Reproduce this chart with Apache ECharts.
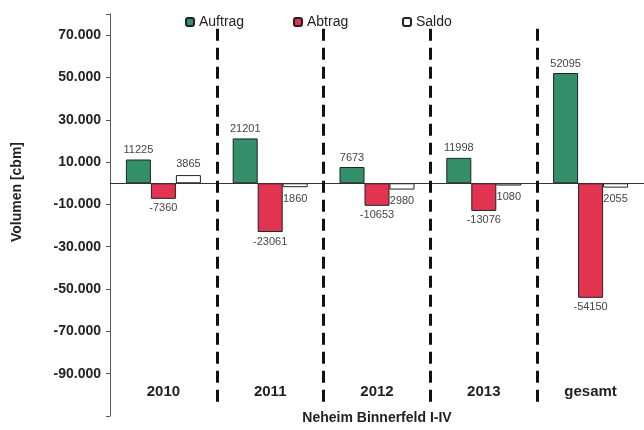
<!DOCTYPE html>
<html>
<head>
<meta charset="utf-8">
<script src="https://cdn.jsdelivr.net/npm/echarts@6/dist/echarts.min.js"></script>
<style>
html,body{margin:0;padding:0;background:#fff;}
#chart{width:644px;height:430px;}
</style>
</head>
<body>
<div id="chart"></div>
<script>
var categories=['2010','2011','2012','2013','gesamt'];
var auftrag=[11225,21201,7673,11998,52095];
var abtrag=[-7360,-23061,-10653,-13076,-54150];
var saldo=[3865,-1860,-2980,-1080,-2055];
var yTicks=[70000,50000,30000,10000,-10000,-30000,-50000,-70000,-90000];

var chart=echarts.init(document.getElementById('chart'));

//Tausender mit Punkt
function fmtDe(v){
	var s=Math.abs(v).toString().replace(/\B(?=(\d{3})+(?!\d))/g,'.');
	return (v<0?'-':'')+s;
}

//gestrichelte Trennlinien zwischen den Jahren
var sepLines=[];
for(var i=1;i<categories.length;i++){
	sepLines.push([{coord:[i,73000]},{coord:[i,-104000]}]);
}

var labelFont={fontFamily:'Liberation Sans',fontSize:11,color:'#444'};

var option={
	animation:false,
	textStyle:{fontFamily:'Liberation Sans'},
	legend:[
		{data:['Auftrag'],left:180,top:10,itemWidth:8,itemHeight:8,textStyle:{fontSize:14,color:'#222'}},
		{data:['Abtrag'],left:288,top:10,itemWidth:8,itemHeight:8,textStyle:{fontSize:14,color:'#222'}},
		{data:['Saldo'],left:397,top:10,itemWidth:8,itemHeight:8,textStyle:{fontSize:14,color:'#222'}}
	],
	grid:{left:110,right:-6,top:14,bottom:13},
	xAxis:[
		{
			type:'category',
			data:categories,
			position:'bottom',
			axisLine:{show:false},
			axisTick:{show:false},
			axisLabel:{inside:true,margin:17,fontSize:15,fontWeight:'bold',color:'#222'},
			name:'Neheim Binnerfeld I-IV',
			nameLocation:'middle',
			nameGap:2,
			nameTextStyle:{fontSize:14,fontWeight:'bold',color:'#222',verticalAlign:'middle'}
		},
		{type:'value',min:0,max:categories.length,show:false}
	],
	yAxis:{
		type:'value',
		min:-110000,
		max:80000,
		interval:20000,
		splitLine:{show:false},
		axisLine:{show:true,lineStyle:{color:'#555'}},
		axisTick:{show:true,length:4,lineStyle:{color:'#555'}},
		axisLabel:{
			margin:9,fontSize:14,fontWeight:'bold',color:'#222',
			formatter:function(v){
				return yTicks.indexOf(v)>=0?fmtDe(v):'';
			}
		}
	},
	graphic:[{
		type:'text',
		left:10,
		top:142,
		rotation:Math.PI/2,
		style:{text:'Volumen [cbm]',font:'bold 14px Liberation Sans',fill:'#222'}
	}],
	series:[
		{
			name:'Auftrag',type:'bar',data:auftrag,barWidth:25,barGap:'0%',
			itemStyle:{color:'#33906A',borderColor:'#222',borderWidth:1},
			label:Object.assign({show:true,position:'top',distance:4},labelFont),
			markLine:{
				silent:true,symbol:'none',label:{show:false},
				lineStyle:{color:'#333',width:1,type:'solid'},
				data:[{yAxis:0}]
			}
		},
		{
			name:'Abtrag',type:'bar',data:abtrag,barWidth:25,barGap:'0%',
			itemStyle:{color:'#E23450',borderColor:'#222',borderWidth:1},
			label:Object.assign({show:true,position:'bottom',distance:4},labelFont)
		},
		{
			name:'Saldo',type:'bar',barWidth:25,barGap:'0%',
			//negative Saldo-Werte unter dem Balken beschriften
			data:saldo.map(function(v){
				return v<0?{value:v,label:{position:'bottom'}}:v;
			}),
			itemStyle:{color:'#fff',borderColor:'#222',borderWidth:1},
			label:Object.assign({
				show:true,distance:6,
				position:'top',
				formatter:function(p){return String(Math.abs(p.value));}
			},labelFont)
		},
		{
			name:'sep',type:'line',xAxisIndex:1,yAxisIndex:0,data:[],
			markLine:{
				silent:true,symbol:'none',label:{show:false},
				lineStyle:{color:'#111',width:3,type:[12,7]},
				data:sepLines
			}
		}
	]
};
chart.setOption(option);
</script>
</body>
</html>
